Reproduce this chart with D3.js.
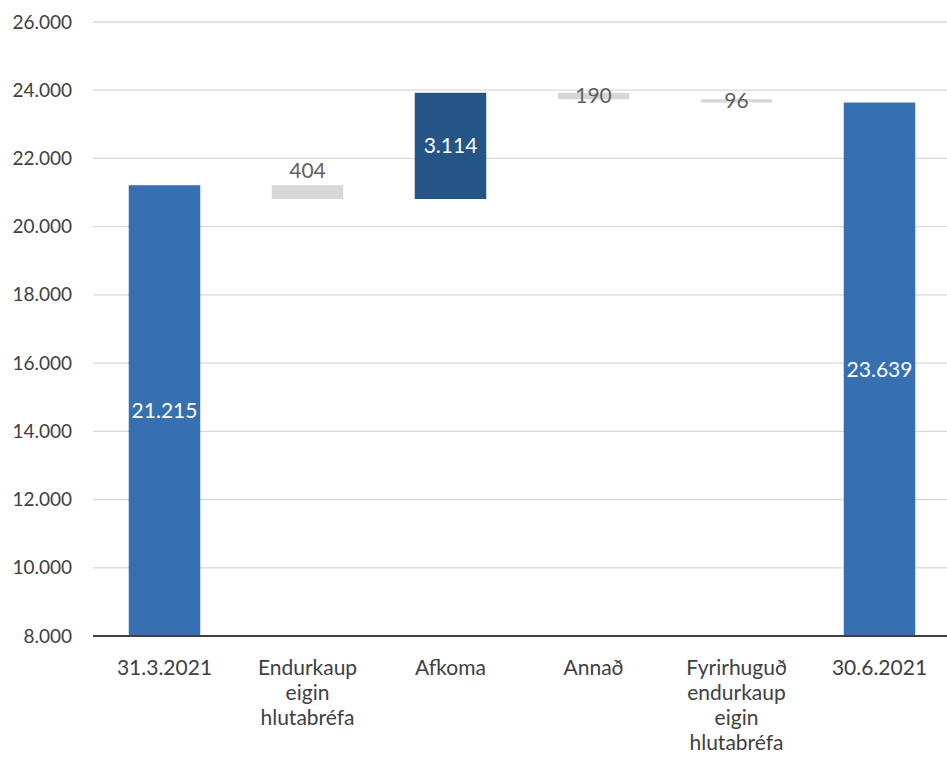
<!DOCTYPE html>
<html>
<head>
<meta charset="utf-8">
<script src="https://cdn.jsdelivr.net/npm/d3@7"></script>
<style>
  body { margin: 0; background: #fff; }
  text { font-family: Lato, "Open Sans", sans-serif; }
</style>
</head>
<body>
<div id="chart-area"></div>
<script>
// Waterfall data (millions)
var categories = ["31.3.2021", "Endurkaup eigin hlutabréfa", "Afkoma", "Annað",
    "Fyrirhuguð endurkaup eigin hlutabréfa", "30.6.2021"];
var categoryLines = [
    ["31.3.2021"],
    ["Endurkaup", "eigin", "hlutabréfa"],
    ["Afkoma"],
    ["Annað"],
    ["Fyrirhuguð", "endurkaup", "eigin", "hlutabréfa"],
    ["30.6.2021"]
];
var changes = [21215, -404, 3114, -190, -96, 23639];
var kinds = ["total", "decrease", "increase", "decrease", "decrease", "total"];
var labels = ["21.215", "404", "3.114", "190", "96", "23.639"];
var yTicks = [8000, 10000, 12000, 14000, 16000, 18000, 20000, 22000, 24000, 26000];

var chartDimensions = {
    width: 947,
    height: 767,
    left: 93,
    right: 951,
    top: 22,
    bottom: 636
};

var colors = {
    total: "#3670b1",
    increase: "#255487",
    decrease: "#d6d8d7",
    grid: "#d9d9d9",
    axis: "#404040",
    tickText: "#404040",
    labelDark: "#616161"
};

// Compute running start/end for each step
var running = 0;
var steps = categories.map(function (cat, i) {
    var start, end;
    if (kinds[i] === "total") {
        start = yTicks[0];
        end = changes[i];
        running = changes[i];
    } else {
        start = running;
        end = running + changes[i];
        running = end;
    }
    return { cat: cat, lines: categoryLines[i], kind: kinds[i], start: start, end: end, label: labels[i] };
});

var x = d3.scaleBand()
    .domain(categories)
    .range([chartDimensions.left, chartDimensions.right])
    .paddingInner(0.5)
    .paddingOuter(0.25);

var y = d3.scaleLinear()
    .domain([yTicks[0], yTicks[yTicks.length - 1]])
    .range([chartDimensions.bottom, chartDimensions.top]);

var chart = d3.select("#chart-area")
    .append("svg")
    .attr("width", chartDimensions.width)
    .attr("height", chartDimensions.height);

// Gridlines
chart.append("g")
    .selectAll("line")
    .data(yTicks.slice(1))
    .enter().append("line")
    .attr("x1", chartDimensions.left)
    .attr("x2", chartDimensions.width)
    .attr("y1", function (d) { return y(d); })
    .attr("y2", function (d) { return y(d); })
    .attr("stroke", colors.grid)
    .attr("stroke-width", 1.3);

// Y axis labels
var yAxis = chart.append("g")
    .attr("transform", "translate(" + chartDimensions.left + ",0)")
    .call(d3.axisLeft(y)
        .tickValues(yTicks)
        .tickSize(0)
        .tickPadding(21)
        .tickFormat(function (d) { return d3.format(",.3f")(d / 1000).replace(",", "."); }));
yAxis.select(".domain").remove();
yAxis.selectAll("text")
    .attr("fill", colors.tickText)
    .style("font-size", "19px")
    .style("font-family", "Lato, sans-serif");

// Bars
chart.append("g")
    .selectAll("rect")
    .data(steps)
    .enter().append("rect")
    .attr("x", function (d) { return x(d.cat); })
    .attr("width", x.bandwidth())
    .attr("y", function (d) { return y(Math.max(d.start, d.end)); })
    .attr("height", function (d) { return Math.abs(y(d.start) - y(d.end)); })
    .attr("fill", function (d) { return colors[d.kind]; });

// Baseline
chart.append("line")
    .attr("x1", chartDimensions.left)
    .attr("x2", chartDimensions.width)
    .attr("y1", y(yTicks[0]))
    .attr("y2", y(yTicks[0]))
    .attr("stroke", colors.axis)
    .attr("stroke-width", 2);

// Value labels
chart.append("g")
    .selectAll("text")
    .data(steps)
    .enter().append("text")
    .attr("x", function (d) { return x(d.cat) + x.bandwidth() / 2; })
    .attr("y", function (d, i) {
        var top = y(Math.max(d.start, d.end));
        var mid = (y(d.start) + y(d.end)) / 2;
        // the 404 label sits above its bar, the others are centred on it
        return (i === 1 ? top - 15 : mid);
    })
    .attr("dy", "0.35em")
    .attr("text-anchor", "middle")
    .attr("fill", function (d) { return d.kind === "decrease" ? colors.labelDark : "#ffffff"; })
    .style("font-size", "21px")
    .text(function (d) { return d.label; });

// Category labels
var catLabels = chart.append("g")
    .selectAll("text")
    .data(steps)
    .enter().append("text")
    .attr("x", function (d) { return x(d.cat) + x.bandwidth() / 2; })
    .attr("y", y(yTicks[0]) + 32)
    .attr("text-anchor", "middle")
    .attr("fill", colors.tickText)
    .style("font-size", "21px");

catLabels.selectAll("tspan")
    .data(function (d) { return d.lines; })
    .enter().append("tspan")
    .attr("x", function () { var p = d3.select(this.parentNode).datum(); return x(p.cat) + x.bandwidth() / 2; })
    .attr("dy", function (d, i) { return i === 0 ? "0.35em" : "25px"; })
    .text(function (d) { return d; });
</script>
</body>
</html>
